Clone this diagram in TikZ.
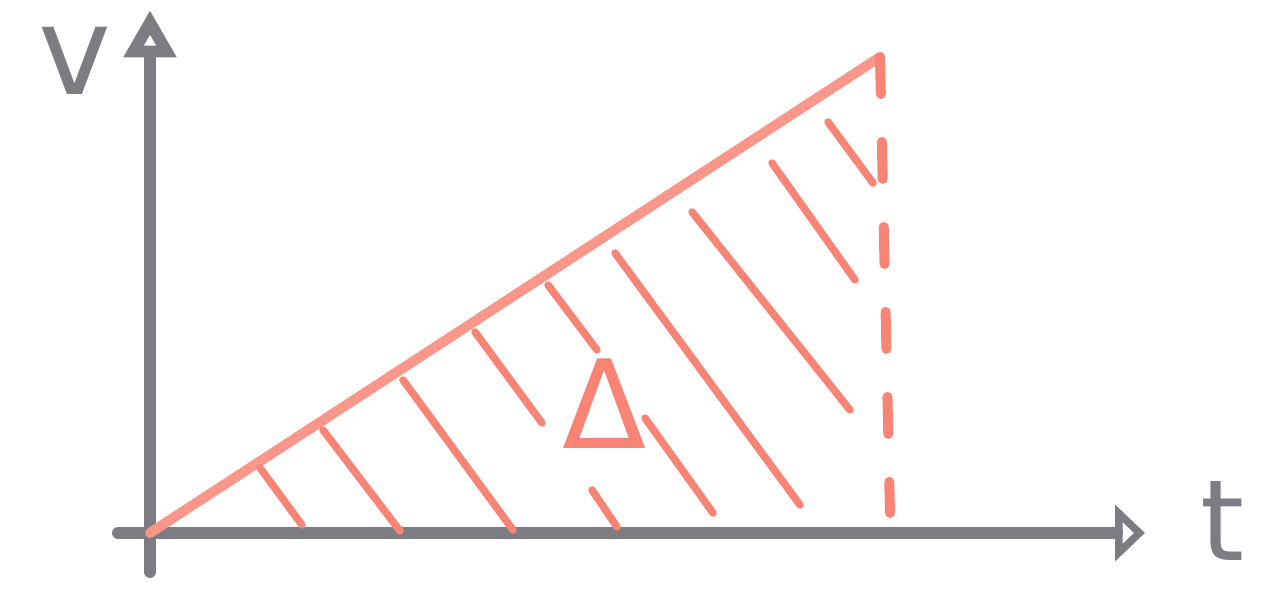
\documentclass[tikz,border=0pt]{standalone}
\usepackage{fontspec}
\setmainfont{DejaVu Sans}
\usetikzlibrary{arrows.meta}
\definecolor{chalkgray}{RGB}{124,124,130}
\definecolor{chalkred}{RGB}{248,132,118}
\definecolor{chalkpink}{RGB}{250,150,138}
\tikzset{
  axis/.style={chalkgray, line width=0.24cm, line cap=round},
  graph/.style={chalkpink, line width=0.2cm, line cap=round},
  hatch/.style={chalkred, line width=0.15cm, line cap=round},
  letter/.style={font=\fontsize{70}{70}\selectfont, inner sep=0pt}
}
\begin{document}
\begin{tikzpicture}
    \useasboundingbox (0,0) rectangle (25.56,11.92);

    % Achsen
    \coordinate (O) at (3.0,1.26);
    \coordinate (ybot) at (3.0,0.48);
    \coordinate (ytop) at (3.0,11.72);
    \coordinate (xleft) at (2.36,1.26);
    \coordinate (xright) at (22.9,1.26);
    \draw[axis, -{Triangle[open, length=0.95cm, width=1.0cm]}] (ybot) -- (ytop);
    \draw[axis, -{Triangle[open, length=0.6cm, width=1.1cm]}] (xleft) -- (xright);
    \node[letter, chalkgray] (v) at (1.5,10.7) {v};
    \node[letter, chalkgray, font=\fontsize{64}{64}\selectfont] (t) at (24.45,1.5) {t};

    % Gerade v(t)
    \coordinate (P) at (17.6,10.78);
    \coordinate (Q) at (17.8,1.66);
    \draw[graph] (O) -- (P);
    \draw[graph, chalkred, dash pattern=on 0.74cm off 0.96cm] (P) -- (Q);

    % Schraffur
    \foreach \a/\b in {{(5.2,2.56)}/{(6.04,1.42)}, {(6.46,3.32)}/{(8.0,1.3)},
        {(8.06,4.32)}/{(10.26,1.32)}, {(9.5,5.28)}/{(10.84,3.46)},
        {(10.96,6.22)}/{(11.94,4.92)}, {(11.84,2.12)}/{(12.34,1.38)},
        {(12.3,6.86)}/{(16.0,1.82)}, {(12.9,3.56)}/{(14.26,1.66)},
        {(13.84,7.68)}/{(17.0,3.72)}, {(15.44,8.66)}/{(17.1,6.32)},
        {(16.56,9.48)}/{(17.46,8.26)}}
      \draw[hatch] \a -- \b;

    % Fläche
    \node[letter, chalkred] (area) at (12.1,3.85) {Δ};
\end{tikzpicture}
\end{document}
